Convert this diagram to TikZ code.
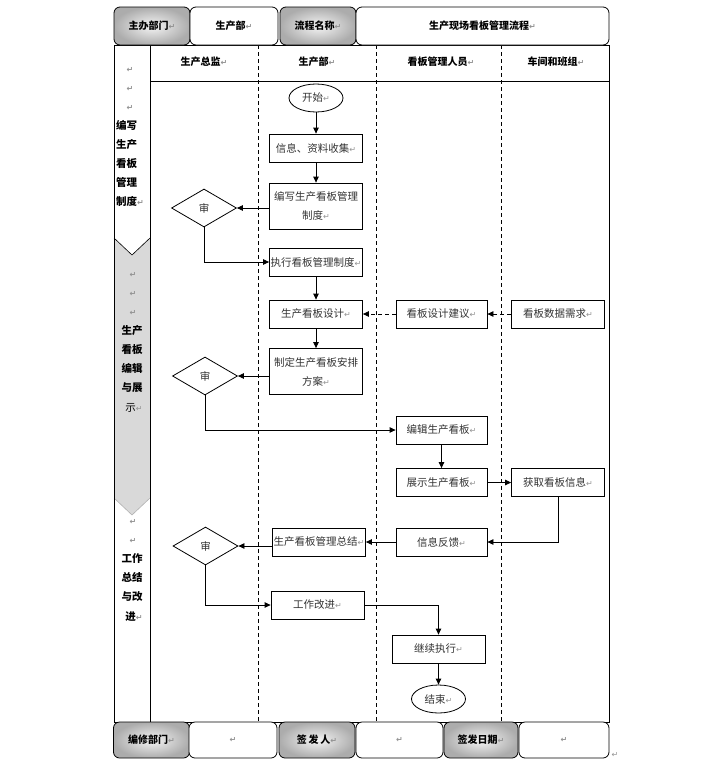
\documentclass[tikz,border=0pt]{standalone}
\usepackage{fontspec}
\setmainfont{Noto Sans CJK SC}
\newfontfamily\dejavu{DejaVu Sans}
\usetikzlibrary{shapes.geometric,arrows.meta}
\newcommand{\rt}{{\dejavu\fontsize{8}{8}\selectfont\color{gray!85}↵}}
\begin{document}
\begin{tikzpicture}[x=1pt,y=-1pt,
  hg/.style={draw=black, line width=0.8pt, rounded corners=6pt, inner color=gray!8, outer color=gray!65, inner sep=0pt, font=\bfseries\fontsize{10}{12}\selectfont},
  hw/.style={draw=black, line width=0.8pt, rounded corners=6pt, fill=white, inner sep=0pt, font=\bfseries\fontsize{10}{12}\selectfont},
  lanehead/.style={font=\bfseries\fontsize{10}{12}\selectfont},
  sidetxt/.style={font=\bfseries\fontsize{10.5}{12}\selectfont, inner sep=0pt},
  box/.style={draw=black, line width=0.8pt, fill=white, minimum width=93pt, minimum height=28pt, inner sep=0pt, text=black!80, font=\fontsize{10.5}{19}\selectfont},
  term/.style={draw=black, line width=0.8pt, ellipse, fill=white, minimum width=54pt, minimum height=28pt, inner sep=0pt, text=black!80, font=\fontsize{10.5}{12}\selectfont},
  dia/.style={draw=black, line width=0.8pt, diamond, aspect=1.7, minimum width=65pt, minimum height=38pt, inner sep=0pt, fill=white, text=black!80, font=\fontsize{10.5}{12}\selectfont},
  arr/.style={-{Triangle[length=6pt,width=5.5pt]}, line width=0.8pt},
  lanesep/.style={line width=0.8pt, dash pattern=on 4pt off 3pt}
]
\useasboundingbox (0,0) rectangle (720,766);

% left column fills
\fill[white] (114,45) -- (150,45) -- (150,238) -- (132,255) -- (114,238) -- cycle;
\fill[black!15] (114,238) -- (132,255) -- (150,238) -- (150,498) -- (132,515) -- (114,498) -- cycle;
\draw[line width=0.6pt] (114,238) -- (132,255) -- (150,238);
\draw[line width=0.6pt, gray!60] (114,498) -- (132,515) -- (150,498);

% frame
\draw[line width=0.8pt] (114,45) rectangle (609,722);
\draw[line width=0.8pt] (150,45) -- (150,722);
\draw[line width=0.8pt] (150,81) -- (609,81);
\draw[lanesep] (258,45) -- (258,722);
\draw[lanesep] (376,45) -- (376,722);
\draw[lanesep] (501,45) -- (501,722);

% top header row
\node[hg, minimum width=76pt, minimum height=38pt] (h1) at (152,26) {主办部门\rt};
\node[hw, minimum width=88pt, minimum height=38pt] (h2) at (234,26) {生产部\rt};
\node[hg, minimum width=76pt, minimum height=38pt] (h3) at (318,26) {流程名称\rt};
\node[hw, minimum width=253pt, minimum height=38pt] (h4) at (482.5,26) {生产现场看板管理流程\rt};

% lane headers
\node[lanehead] (l1) at (204,62) {生产总监\rt};
\node[lanehead] (l2) at (317,62) {生产部\rt};
\node[lanehead] (l3) at (441,62) {看板管理人员\rt};
\node[lanehead] (l4) at (556,62) {车间和班组\rt};

% left column texts
\node[sidetxt, anchor=base] (sa1) at (130,72) {\rt};
\node[sidetxt, anchor=base] (sa2) at (130,91) {\rt};
\node[sidetxt, anchor=base] (sa3) at (130,110) {\rt};
\node[sidetxt, anchor=base west] (sa4) at (116,129) {编写};
\node[sidetxt, anchor=base west] (sa5) at (116,148) {生产};
\node[sidetxt, anchor=base west] (sa6) at (116,167) {看板};
\node[sidetxt, anchor=base west] (sa7) at (116,186) {管理};
\node[sidetxt, anchor=base west] (sa8) at (116,205) {制度\rt};

\node[sidetxt, anchor=base] (sb1) at (133,277) {\rt};
\node[sidetxt, anchor=base] (sb2) at (133,296) {\rt};
\node[sidetxt, anchor=base] (sb3) at (133,315) {\rt};
\node[sidetxt, anchor=base] (sb4) at (132,334) {生产};
\node[sidetxt, anchor=base] (sb5) at (132,353) {看板};
\node[sidetxt, anchor=base] (sb6) at (132,372) {编辑};
\node[sidetxt, anchor=base] (sb7) at (132,391) {与展};
\node[sidetxt, anchor=base, font=\fontsize{10.5}{12}\selectfont] (sb8) at (134,411) {示\rt};

\node[sidetxt, anchor=base] (sc1) at (133,524) {\rt};
\node[sidetxt, anchor=base] (sc2) at (133,543) {\rt};
\node[sidetxt, anchor=base] (sc3) at (132,562) {工作};
\node[sidetxt, anchor=base] (sc4) at (132,581) {总结};
\node[sidetxt, anchor=base] (sc5) at (132,600) {与改};
\node[sidetxt, anchor=base] (sc6) at (134,620) {进\rt};

% flow nodes
\node[term] (start) at (316,98) {开始\rt};
\node[box] (n1) at (316,148) {信息、资料收集\rt};
\node[box, minimum height=46pt, align=center] (n2) at (316,206) {编写生产看板管理\\制度\rt};
\node[dia] (d1) at (204,208) {审};
\node[box] (n3) at (316,262) {执行看板管理制度\rt};
\node[box] (n4) at (316,314) {生产看板设计\rt};
\node[box, minimum height=46pt, align=center] (n5) at (316,371.5) {制定生产看板安排\\方案\rt};
\node[dia] (d2) at (205,376) {审};
\node[box, minimum width=91pt] (n6) at (441.5,314) {看板设计建议\rt};
\node[box] (n7) at (558,314) {看板数据需求\rt};
\node[box, minimum width=91pt] (n8) at (441.5,430) {编辑生产看板\rt};
\node[box, minimum width=91pt] (n9) at (441.5,482.5) {展示生产看板\rt};
\node[box] (n10) at (558,482.5) {获取看板信息\rt};
\node[box, minimum width=91pt] (n11) at (441.5,542) {信息反馈\rt};
\node[box] (n12) at (319,542) {生产看板管理总结\rt};
\node[dia] (d3) at (205.5,546) {审};
\node[box] (n13) at (317.5,605) {工作改进\rt};
\node[box] (n14) at (438.5,649) {继续执行\rt};
\node[term] (end) at (438.5,699) {结束\rt};

% connectors
\draw[arr] (start.south) -- (n1.north);
\draw[arr] (n1.south) -- (n2.north);
\draw[arr] (n2.west |- d1.east) -- (d1.east);
\draw[arr] (d1.south) |- (n3.west);
\draw[arr] (n3.south) -- (n4.north);
\draw[arr, dash pattern=on 4pt off 3pt] (n6.west) -- (n4.east);
\draw[arr, dash pattern=on 4pt off 3pt] (n7.west) -- (n6.east);
\draw[arr] (n4.south) -- (n5.north);
\draw[arr] (n5.west |- d2.east) -- (d2.east);
\draw[arr] (d2.south) |- (n8.west);
\draw[arr] (n8.south) -- (n9.north);
\draw[arr] (n9.east) -- (n10.west);
\draw[arr] (n10.south) |- (n11.east);
\draw[arr] (n11.west) -- (n12.east);
\draw[arr] (n12.west |- d3.east) -- (d3.east);
\draw[arr] (d3.south) |- (n13.west);
\draw[arr] (n13.east) -| (n14.north);
\draw[arr] (n14.south) -- (end.north);

% bottom row
\node[hg, minimum width=76pt, minimum height=36pt] (f1) at (151.5,740) {编修部门\rt};
\node[hw, minimum width=88pt, minimum height=36pt] (f2) at (233,740) {\rt};
\node[hg, minimum width=76pt, minimum height=36pt] (f3) at (317,740) {签\,发\,人\rt};
\node[hw, minimum width=87pt, minimum height=36pt] (f4) at (399.5,740) {\rt};
\node[hg, minimum width=74pt, minimum height=36pt] (f5) at (481,740) {签发日期\rt};
\node[hw, minimum width=90pt, minimum height=36pt] (f6) at (564,740) {\rt};
\node[inner sep=0pt] (endmark) at (615,755) {\rt};
\end{tikzpicture}
\end{document}
